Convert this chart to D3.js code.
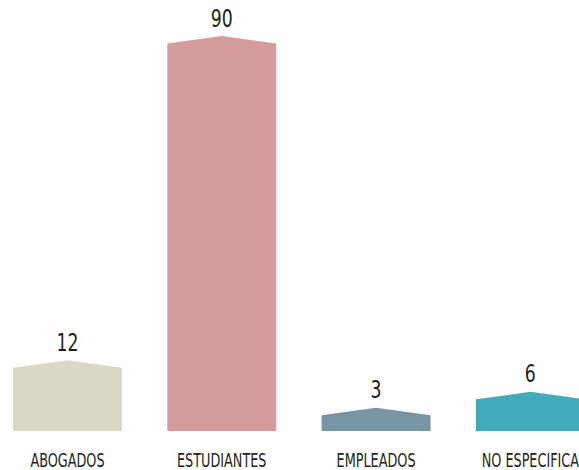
<!doctype html>
<html lang="es">
<head>
<meta charset="utf-8">
<title></title>
<script src="https://d3js.org/d3.v7.min.js"></script>
<style>
  body { margin: 0; background: #fff; }
  text { font-family: "DejaVu Sans Condensed", "Liberation Sans Narrow", sans-serif; fill: #231f20; }
</style>
</head>
<body>
<script>
var categories = ["ABOGADOS", "ESTUDIANTES", "EMPLEADOS", "NO ESPECIFICA"];
var values = [12, 90, 3, 6];
var colors = ["#dad8c5", "#d49d9c", "#7795a2", "#42aabb"];

var width = 579, height = 470;
var baseY = 431, roof = 7.5;

var svg = d3.select("body").append("svg")
  .attr("width", width)
  .attr("height", height);

var x = d3.scaleBand()
  .domain(categories)
  .range([-9.7, 607.5])
  .paddingInner(0.294)
  .paddingOuter(0.147);

// the tall bar is shortened, so the scale bends above 12
var y = d3.scaleLinear()
  .domain([0, 12, 90])
  .range([baseY, 367.7, 43.5]);

var data = categories.map((c, i) => ({cat: c, val: values[i], color: colors[i]}));

function shape(d) {
  var x0 = x(d.cat), x1 = x0 + x.bandwidth(), xm = (x0 + x1) / 2;
  var top = y(d.val);
  return "M" + x0 + "," + baseY + "L" + x0 + "," + top + "L" + xm + "," + (top - roof) +
    "L" + x1 + "," + top + "L" + x1 + "," + baseY + "Z";
}

svg.selectAll(".bar")
  .data(data)
  .enter()
  .append("path")
  .attr("class", "bar")
  .attr("d", shape)
  .attr("fill", d => d.color);

svg.selectAll(".val")
  .data(data)
  .enter()
  .append("text")
  .attr("class", "val")
  .attr("text-anchor", "middle")
  .attr("font-size", 24)
  .attr("transform", d => "translate(" + (x(d.cat) + x.bandwidth() / 2) + "," + (y(d.val) - roof - 9.5) + ") scale(0.8,1)")
  .text(d => d.val);

svg.selectAll(".cat")
  .data(data)
  .enter()
  .append("text")
  .attr("class", "cat")
  .attr("text-anchor", "middle")
  .attr("font-size", 19)
  .attr("transform", d => "translate(" + (x(d.cat) + x.bandwidth() / 2) + ",466.5) scale(0.75,1)")
  .text(d => d.cat);
</script>
</body>
</html>
